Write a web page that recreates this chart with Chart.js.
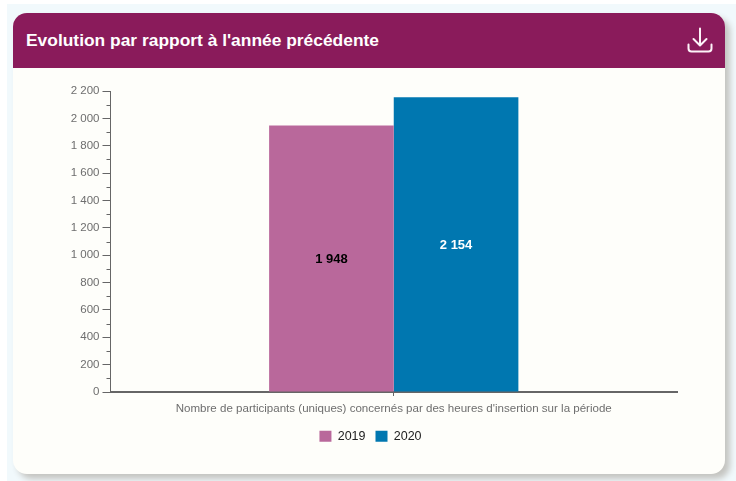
<!DOCTYPE html>
<html><head><meta charset="utf-8">
<script src="https://cdn.jsdelivr.net/npm/chart.js@4"></script>
<style>
html,body{margin:0;padding:0;width:736px;height:481px;overflow:hidden;background:#fff;font-family:"Liberation Sans",Arial,sans-serif}
#bg{position:absolute;left:7px;top:4px;width:729px;height:477px;background:#f1f9fc}
#card{position:absolute;left:13px;top:13px;width:712px;height:461px;background:#fefefa;border-radius:14px;box-shadow:5px 5px 6px #c4c4c0;overflow:hidden}
#head{position:absolute;left:0;top:0;width:712px;height:55px;background:#8a1b5b}
#title{position:absolute;left:13px;top:17px;color:#fff;font-weight:bold;font-size:17.4px;line-height:20px;white-space:nowrap}
#icon{position:absolute;left:687px;top:27px}
canvas{position:absolute;left:0;top:0}
</style></head><body>
<div id="bg"></div>
<div id="card"><div id="head"><div id="title">Evolution par rapport à l'année précédente</div></div></div>
<svg id="icon" width="26" height="27" viewBox="0 0 26 27" fill="none" stroke="#fdf3f8" stroke-width="2" stroke-linecap="round" stroke-linejoin="round"><path d="M13 1.500V18M6.500 12l6.500 6.500 6.500-6.500M1.500 17.500v4a3 3 0 0 0 3 3h17a3 3 0 0 0 3-3v-4"/></svg>
<canvas id="c" width="736" height="481"></canvas>
<script>
const categories=["Nombre de participants (uniques) concernés par des heures d'insertion sur la période"];
const seriesNames=["2019","2020"];
const values2019=[1948];
const values2020=[2154];
const colors=["#b9689b","#0077b0"];
const labelColors=["#000000","#ffffff"];
const yMax=2200, yMajor=200, yMinor=100;
const fmt=v=>String(v).replace(/\B(?=(\d{3})+$)/g,' ');
const extras={id:'extras',
 afterDatasetsDraw(ch){
  const g=ch.ctx,y=ch.scales.y;
  g.save();g.strokeStyle='#666';g.lineWidth=1;
  for(let v=yMinor;v<yMax;v+=yMajor){const p=Math.round(y.getPixelForValue(v))+.5;g.beginPath();g.moveTo(y.right-4,p);g.lineTo(y.right,p);g.stroke();}
  g.font='bold 13px "Liberation Sans"';g.textAlign='center';g.textBaseline='middle';
  ch.data.datasets.forEach((d,i)=>{ch.getDatasetMeta(i).data.forEach((b,j)=>{
    g.fillStyle=labelColors[i];
    g.fillText(fmt(d.data[j]),b.x,(b.y+b.base)/2+1);});});
  g.restore();
 }};
new Chart(document.getElementById('c'),{type:'bar',
 data:{labels:categories,datasets:[
  {label:seriesNames[0],data:values2019,backgroundColor:colors[0]},
  {label:seriesNames[1],data:values2020,backgroundColor:colors[1]}]},
 plugins:[extras],
 options:{responsive:false,animation:false,
  datasets:{bar:{barPercentage:1,categoryPercentage:0.44}},
  layout:{padding:{left:64,top:91,right:59,bottom:28.5}},
  plugins:{tooltip:{enabled:false},title:{display:false},
   legend:{position:'bottom',labels:{boxWidth:12,boxHeight:11,padding:10,color:'#222',font:{size:12.5,family:'"Liberation Sans"'}}}},
  scales:{
   x:{grid:{drawOnChartArea:false,offset:false,tickLength:4,tickColor:'#666',tickWidth:1},
      border:{color:'#666',width:2},
      ticks:{color:'#6e6e6e',maxRotation:0,padding:6,font:{size:11.55,family:'"Liberation Sans"'}},
      afterFit(s){s.height=28;}},
   y:{min:0,max:yMax,
      grid:{drawOnChartArea:false,tickLength:8,tickColor:'#666',tickWidth:1},
      border:{color:'#666',width:1},
      ticks:{stepSize:yMajor,color:'#6e6e6e',padding:3,callback:v=>fmt(v),font:{size:11.5,family:'"Liberation Sans"'}},
      afterFit(s){s.width=46.5;}}
  }}});
</script></body></html>
